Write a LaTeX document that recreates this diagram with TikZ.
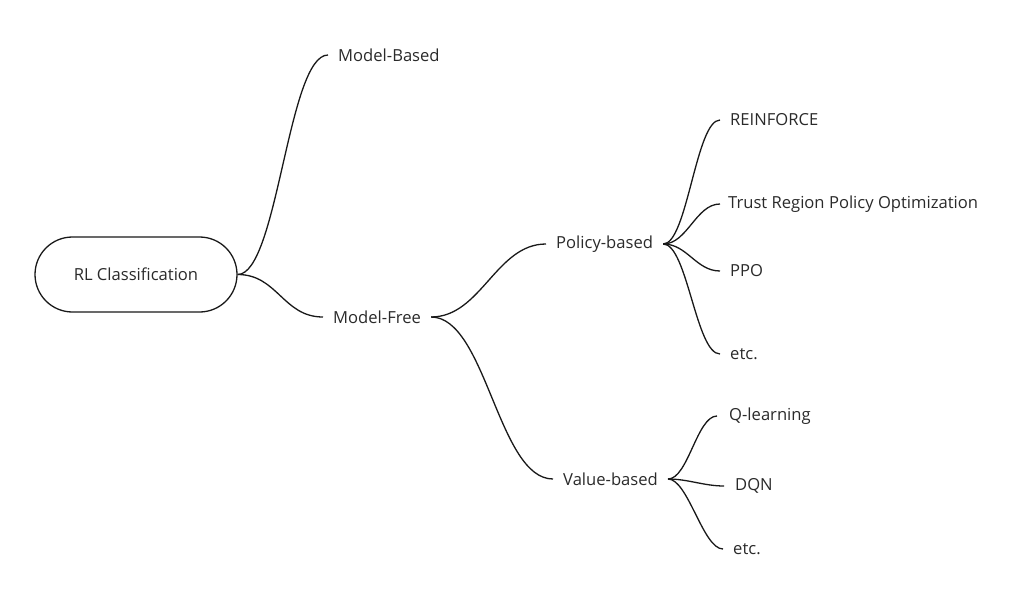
\documentclass[tikz,border=0pt]{standalone}
\usepackage{fontspec}
\setmainfont{Open Sans}
\definecolor{txt}{HTML}{2A2A2A}
\begin{document}
\begin{tikzpicture}[x=1pt,y=-1pt,
  leaf/.style={anchor=west,inner xsep=10pt,inner ysep=2pt,text=txt,font=\fontsize{16.6}{19}\selectfont},
  link/.style={draw=black!90,line width=1.3pt},
  rootbox/.style={draw=black!90,line width=1.3pt,rounded corners=37.5pt,minimum width=202pt,minimum height=75pt,text=txt,font=\fontsize{16.6}{19}\selectfont}]
\useasboundingbox (0,0) rectangle (1024,599);
\node[rootbox] (root) at (136,274.5) {RL Classification};
\node[leaf] (mb) at (328,55) {Model-Based};
\node[leaf] (mf) at (323,317) {Model-Free};
\node[leaf] (pb) at (546,244) {Policy-based};
\node[leaf] (vb) at (553,479) {Value-based};
\node[leaf] (re) at (720,120) {REINFORCE};
\node[leaf,inner xsep=8pt] (tr) at (720,204) {Trust Region Policy Optimization};
\node[leaf] (pp) at (720,271) {PPO};
\node[leaf] (e1) at (720,354) {etc.};
\node[leaf,inner xsep=12pt] (ql) at (717,416) {Q-learning};
\node[leaf,inner xsep=11pt] (dq) at (724,486) {DQN};
\node[leaf] (e2) at (723,549) {etc.};
\draw[link] (root.east) .. controls +(40,0) and +(-40,0) .. (mb.west);
\draw[link] (root.east) .. controls +(40,0) and +(-40,0) .. (mf.west);
\draw[link] (mf.east) .. controls +(50,0) and +(-50,0) .. (pb.west);
\draw[link] (mf.east) .. controls +(55,0) and +(-55,0) .. (vb.west);
\draw[link] (pb.east) .. controls +(24,0) and +(-24,0) .. (re.west);
\draw[link] (pb.east) .. controls +(24,0) and +(-24,0) .. (tr.west);
\draw[link] (pb.east) .. controls +(24,0) and +(-24,0) .. (pp.west);
\draw[link] (pb.east) .. controls +(24,0) and +(-24,0) .. (e1.west);
\draw[link] (vb.east) .. controls +(20,0) and +(-20,0) .. (ql.west);
\draw[link] (vb.east) .. controls +(20,0) and +(-20,0) .. (dq.west);
\draw[link] (vb.east) .. controls +(20,0) and +(-20,0) .. (e2.west);
\end{tikzpicture}
\end{document}
